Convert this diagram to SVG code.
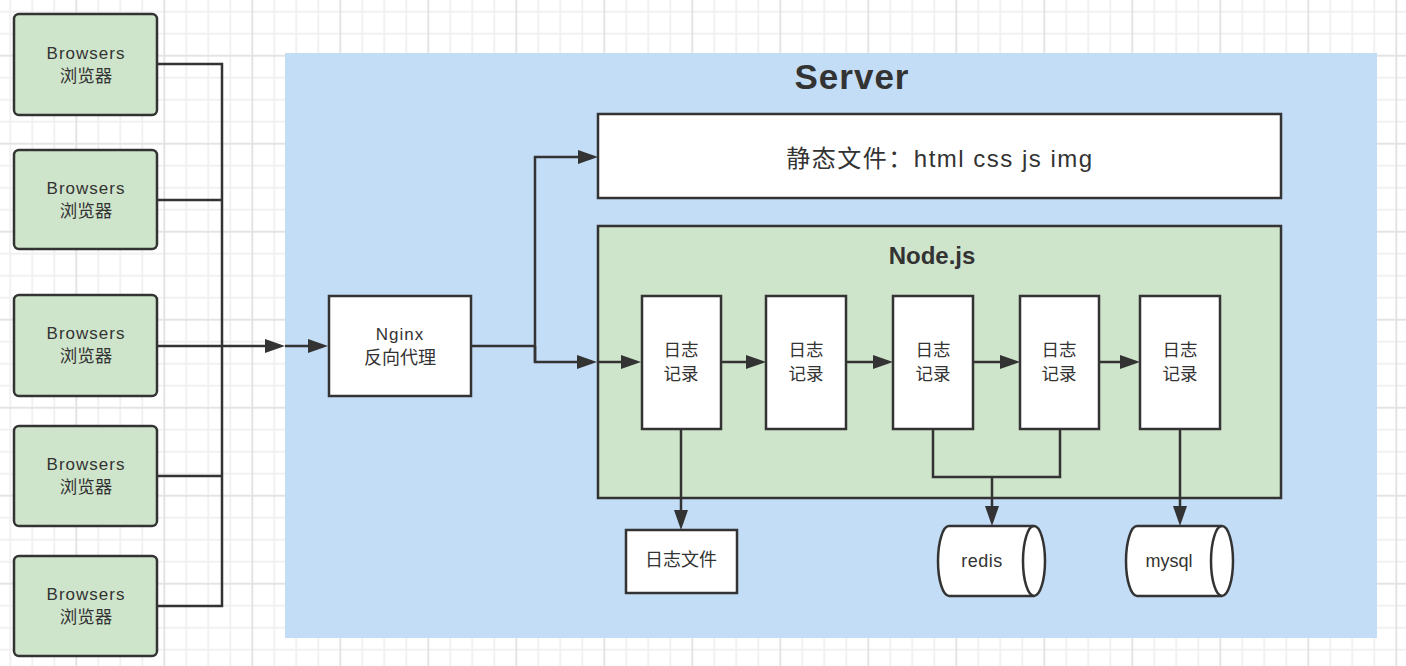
<svg xmlns="http://www.w3.org/2000/svg" width="1406" height="666" viewBox="0 0 1406 666">
  <defs>
    <pattern id="grid" patternUnits="userSpaceOnUse" x="-12.7" y="-33.3" width="88" height="88">
      <path d="M23,0V88M45,0V88M67,0V88M0,23H88M0,45H88M0,67H88" stroke="#f1f1f1" stroke-width="2" fill="none"/>
      <path d="M1,0V88M0,1H88" stroke="#e4e4e4" stroke-width="2" fill="none"/>
    </pattern>
    <marker id="arr" viewBox="0 0 20 14" refX="12" refY="7" markerWidth="20" markerHeight="14" markerUnits="userSpaceOnUse" orient="auto">
      <path d="M0,0L20,7L0,14Z" fill="#333"/>
    </marker>
    <style>
      .box{stroke:#333;stroke-width:2.5}
      .green{fill:#cfe5cb}
      .white{fill:#fff}
      .t{font-family:"Liberation Sans","Noto Sans CJK SC",sans-serif;fill:#333;text-anchor:middle}
      .cjk{font-family:"Noto Sans CJK SC",sans-serif;font-size:18px}
      .cjk2{font-family:"Noto Sans CJK SC",sans-serif;font-size:17.5px}
      .lat{font-size:17px;letter-spacing:1px}
      .ln{fill:none;stroke:#333;stroke-width:2.5}
    </style>
  </defs>
  <rect width="1406" height="666" fill="#fff"/>
  <rect width="1406" height="666" fill="url(#grid)"/>

  <g id="server">
    <rect x="285" y="53" width="1092" height="585" fill="#c3ddf6"/>
    <text class="t" x="852" y="89" font-size="35" font-weight="bold" style="letter-spacing:1px">Server</text>
  </g>

  <g id="static">
    <rect class="box white" x="598" y="114" width="683" height="84"/>
    <text class="t" x="940" y="167" font-size="24" style="letter-spacing:1.5px">静态文件：html css js img</text>
  </g>

  <g id="nodejs">
    <rect class="box green" x="598" y="226" width="683" height="272"/>
    <text class="t" x="932" y="264" font-size="24" font-weight="bold">Node.js</text>
  </g>

  <g id="browser1">
    <rect class="box green" x="14" y="14" width="143" height="101" rx="5"/>
    <text class="t"><tspan class="lat" x="86" y="58.5">Browsers</tspan><tspan class="cjk2" x="86" y="81.5">浏览器</tspan></text>
  </g>
  <g id="browser2">
    <rect class="box green" x="14" y="150" width="143" height="99" rx="5"/>
    <text class="t"><tspan class="lat" x="86" y="193.5">Browsers</tspan><tspan class="cjk2" x="86" y="216.5">浏览器</tspan></text>
  </g>
  <g id="browser3">
    <rect class="box green" x="14" y="295" width="143" height="101" rx="5"/>
    <text class="t"><tspan class="lat" x="86" y="339">Browsers</tspan><tspan class="cjk2" x="86" y="362">浏览器</tspan></text>
  </g>
  <g id="browser4">
    <rect class="box green" x="14" y="426" width="143" height="100" rx="5"/>
    <text class="t"><tspan class="lat" x="86" y="469.5">Browsers</tspan><tspan class="cjk2" x="86" y="492.5">浏览器</tspan></text>
  </g>
  <g id="browser5">
    <rect class="box green" x="14" y="556" width="143" height="100" rx="5"/>
    <text class="t"><tspan class="lat" x="86" y="599.5">Browsers</tspan><tspan class="cjk2" x="86" y="622.5">浏览器</tspan></text>
  </g>

  <g id="nginx">
    <rect class="box white" x="329" y="296" width="142" height="100"/>
    <text class="t"><tspan class="lat" x="400" y="340">Nginx</tspan><tspan class="cjk" x="400" y="364">反向代理</tspan></text>
  </g>

  <g id="log1">
    <rect class="box white" x="642" y="296" width="79" height="133"/>
    <text class="t cjk2"><tspan x="681" y="356">日志</tspan><tspan x="681" y="379.5">记录</tspan></text>
  </g>
  <g id="log2">
    <rect class="box white" x="766" y="296" width="80" height="133"/>
    <text class="t cjk2"><tspan x="806" y="356">日志</tspan><tspan x="806" y="379.5">记录</tspan></text>
  </g>
  <g id="log3">
    <rect class="box white" x="893" y="296" width="80" height="133"/>
    <text class="t cjk2"><tspan x="933" y="356">日志</tspan><tspan x="933" y="379.5">记录</tspan></text>
  </g>
  <g id="log4">
    <rect class="box white" x="1020" y="296" width="79" height="133"/>
    <text class="t cjk2"><tspan x="1059" y="356">日志</tspan><tspan x="1059" y="379.5">记录</tspan></text>
  </g>
  <g id="log5">
    <rect class="box white" x="1140" y="296" width="80" height="133"/>
    <text class="t cjk2"><tspan x="1180" y="356">日志</tspan><tspan x="1180" y="379.5">记录</tspan></text>
  </g>

  <g id="logfile">
    <rect class="box white" x="626" y="530" width="111" height="63"/>
    <text class="t cjk" x="681" y="566">日志文件</text>
  </g>

  <g id="redis">
    <path class="box white" d="M949,526H1034A11,35 0 0 1 1034,596H949A11,35 0 0 1 949,526Z"/>
    <path class="box" fill="none" d="M1034,526A11,35 0 0 0 1034,596"/>
    <text class="t" x="982" y="567" font-size="18" style="letter-spacing:0.5px">redis</text>
  </g>
  <g id="mysql">
    <path class="box white" d="M1137,526H1222A11,35 0 0 1 1222,596H1137A11,35 0 0 1 1137,526Z"/>
    <path class="box" fill="none" d="M1222,526A11,35 0 0 0 1222,596"/>
    <text class="t" x="1169" y="567" font-size="18">mysql</text>
  </g>

  <g id="connectors">
    <path class="ln" d="M157,64H222V606H157"/>
    <path class="ln" d="M157,200H222"/>
    <path class="ln" d="M157,476H222"/>
    <path class="ln" d="M157,346H277" marker-end="url(#arr)" stroke-width="3"/>
    <path class="ln" d="M285,346H320" marker-end="url(#arr)" stroke-width="3"/>
    <path class="ln" d="M471,346H535" stroke-width="3"/>
    <path class="ln" d="M535,346V362H589" marker-end="url(#arr)"/>
    <path class="ln" d="M597,362H633" marker-end="url(#arr)"/>
    <path class="ln" d="M535,362V157H590" marker-end="url(#arr)"/>
    <path class="ln" d="M721,362H758" marker-end="url(#arr)"/>
    <path class="ln" d="M846,362H885" marker-end="url(#arr)"/>
    <path class="ln" d="M973,362H1012" marker-end="url(#arr)"/>
    <path class="ln" d="M1099,362H1132" marker-end="url(#arr)"/>
    <path class="ln" d="M681,429V522" marker-end="url(#arr)"/>
    <path class="ln" d="M933,429V477H1060V429" stroke-width="2"/>
    <path class="ln" d="M992,477V518" marker-end="url(#arr)"/>
    <path class="ln" d="M1180,429V518" marker-end="url(#arr)"/>
  </g>
</svg>
